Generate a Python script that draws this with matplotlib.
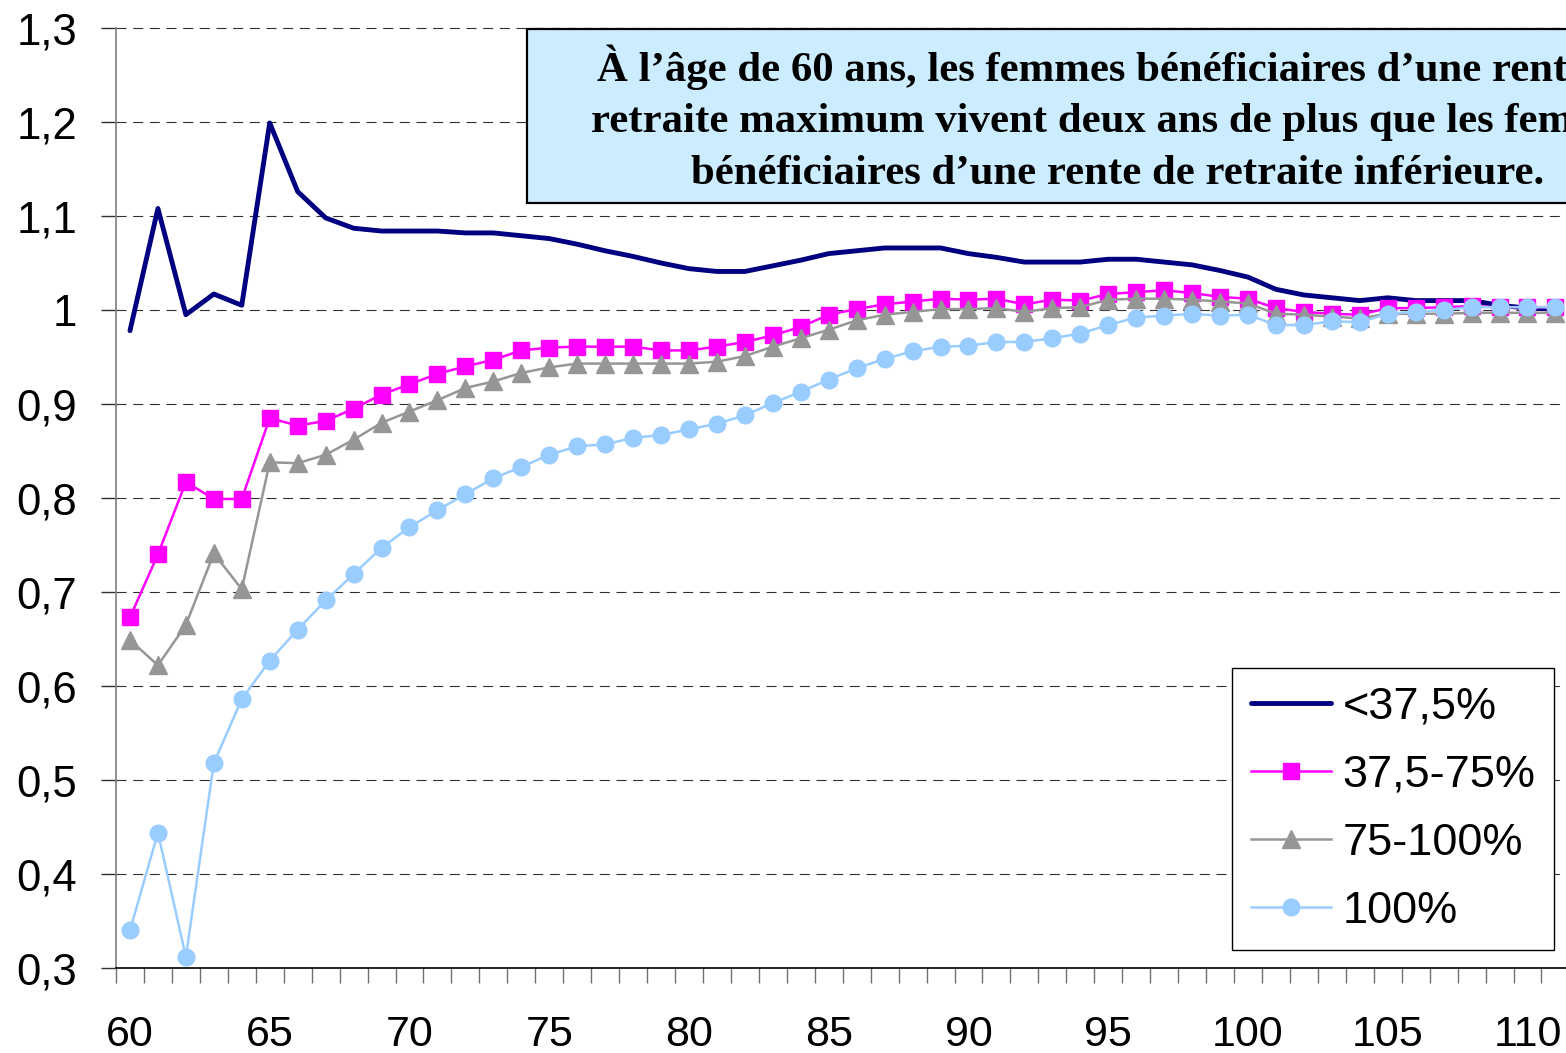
import matplotlib
matplotlib.use("Agg")
import matplotlib.pyplot as plt
from matplotlib.patches import Rectangle
from matplotlib.ticker import FixedLocator, FuncFormatter

plt.rcParams["font.family"] = ["Liberation Sans", "DejaVu Sans"]

# ages 60..111
ages = list(range(60, 112))

below_375 = [0.978, 1.108, 0.995, 1.017, 1.005, 1.199, 1.126, 1.098, 1.087, 1.084,
             1.084, 1.084, 1.082, 1.082, 1.079, 1.076, 1.070, 1.063, 1.057, 1.050,
             1.044, 1.041, 1.041, 1.047, 1.053, 1.060, 1.063, 1.066, 1.066, 1.066,
             1.060, 1.056, 1.051, 1.051, 1.051, 1.054, 1.054, 1.051, 1.048, 1.042,
             1.035, 1.022, 1.016, 1.013, 1.010, 1.013, 1.010, 1.010, 1.010, 1.005,
             1.002, 1.001]
from_375_to_75 = [0.673, 0.740, 0.817, 0.799, 0.799, 0.885, 0.877, 0.882, 0.895, 0.910,
                  0.921, 0.932, 0.940, 0.947, 0.957, 0.960, 0.961, 0.961, 0.961, 0.957,
                  0.957, 0.961, 0.966, 0.973, 0.982, 0.995, 1.001, 1.006, 1.009, 1.012,
                  1.011, 1.012, 1.006, 1.011, 1.010, 1.017, 1.019, 1.021, 1.018, 1.014,
                  1.012, 1.002, 0.998, 0.996, 0.995, 1.002, 1.002, 1.003, 1.004, 1.003,
                  1.003, 1.003]
from_75_to_100 = [0.649, 0.622, 0.665, 0.741, 0.703, 0.838, 0.837, 0.846, 0.862, 0.880,
                  0.892, 0.904, 0.917, 0.924, 0.933, 0.939, 0.943, 0.943, 0.943, 0.943,
                  0.943, 0.945, 0.951, 0.961, 0.970, 0.979, 0.989, 0.995, 0.998, 1.001,
                  1.001, 1.002, 0.998, 1.002, 1.003, 1.011, 1.012, 1.012, 1.011, 1.009,
                  1.007, 0.996, 0.995, 0.993, 0.991, 0.996, 0.996, 0.996, 0.997, 0.997,
                  0.997, 0.997]
full_100 = [0.340, 0.444, 0.312, 0.518, 0.586, 0.627, 0.660, 0.691, 0.719, 0.747,
            0.769, 0.787, 0.804, 0.821, 0.833, 0.846, 0.855, 0.857, 0.864, 0.867,
            0.873, 0.879, 0.888, 0.901, 0.913, 0.926, 0.938, 0.948, 0.956, 0.961,
            0.962, 0.966, 0.966, 0.970, 0.975, 0.984, 0.992, 0.994, 0.996, 0.994,
            0.995, 0.984, 0.984, 0.988, 0.987, 0.996, 0.998, 1.000, 1.003, 1.003,
            1.003, 1.003]

series_labels = ["<37,5%", "37,5-75%", "75-100%", "100%"]
x_labels = [60, 65, 70, 75, 80, 85, 90, 95, 100, 105, 110]
y_ticks = [0.3, 0.4, 0.5, 0.6, 0.7, 0.8, 0.9, 1.0, 1.1, 1.2, 1.3]

note_lines = [
    "À l’âge de 60 ans, les femmes bénéficiaires d’une rente de",
    "retraite maximum vivent deux ans de plus que les femmes",
    "bénéficiaires d’une rente de retraite inférieure.",
]

W, H = 1566, 1053
fig = plt.figure(figsize=(W / 100, H / 100), dpi=100)
ax = fig.add_axes([116 / W, 1 - 968 / H, 1 - 116 / W, (968 - 28) / H])

ax.plot(ages, below_375, color="#000080", lw=3.5, solid_joinstyle="round",
        solid_capstyle="round", label=series_labels[0], zorder=3)
ax.plot(ages, from_375_to_75, color="#FF00FF", lw=1.8, marker="s", ms=11.5,
        mec="#FF00FF", label=series_labels[1], zorder=4)
ax.plot(ages, from_75_to_100, color="#969696", lw=1.8, marker="^", ms=13,
        mec="#969696", label=series_labels[2], zorder=5)
ax.plot(ages, full_100, color="#99CCFF", lw=1.8, marker="o", ms=12,
        mec="#99CCFF", label=series_labels[3], zorder=6)

ax.set_xlim(59.5, 59.5 + (W - 116) / 27.95)
ax.set_ylim(0.3, 1.3)

ax.xaxis.set_major_locator(FixedLocator(x_labels))
ax.xaxis.set_minor_locator(FixedLocator([a - 0.5 for a in ages]))
ax.yaxis.set_major_locator(FixedLocator(y_ticks))
ax.yaxis.set_major_formatter(FuncFormatter(
    lambda v, p: "1" if abs(v - 1) < 1e-9 else f"{v:.1f}".replace(".", ",")))

ax.tick_params(axis="x", which="major", length=0, pad=34, labelsize=31)
ax.tick_params(axis="x", which="minor", length=11, width=1, color="#707070",
               direction="out")
ax.tick_params(axis="y", which="major", length=11, width=1, color="#303030",
               direction="out", pad=17, labelsize=31.5)

for s in ["top", "right"]:
    ax.spines[s].set_visible(False)
ax.spines["left"].set_color("#808080")
ax.spines["left"].set_linewidth(1.2)
ax.spines["bottom"].set_color("#000000")
ax.spines["bottom"].set_linewidth(1.2)

for y in y_ticks[1:]:
    ax.axhline(y, color="#303030", lw=0.8, linestyle=(0, (9, 6)), zorder=1,
               clip_on=False)

leg = ax.legend(loc="upper right", bbox_to_anchor=(1554 / W, 1 - 668 / H),
                bbox_transform=fig.transFigure, borderaxespad=0,
                fontsize=32.5, handlelength=1.78, handletextpad=0.25,
                labelspacing=0.6, borderpad=0.41, fancybox=False,
                framealpha=1, edgecolor="#000000")
leg.get_frame().set_linewidth(1.0)
leg.set_zorder(10)

# text box in the upper right
fig.add_artist(Rectangle((527 / W, 1 - 203 / H), (1709 - 527) / W, (203 - 29) / H,
                         transform=fig.transFigure, facecolor="#CCECFF",
                         edgecolor="#000000", lw=1.6, zorder=5))
for line, base in zip(note_lines, [81, 132, 184]):
    fig.text(1118 / W, 1 - base / H, line, ha="center", va="baseline",
             fontsize=30.8, fontweight="bold", family="Liberation Serif", zorder=6)

fig.savefig("out.png", dpi=100)
